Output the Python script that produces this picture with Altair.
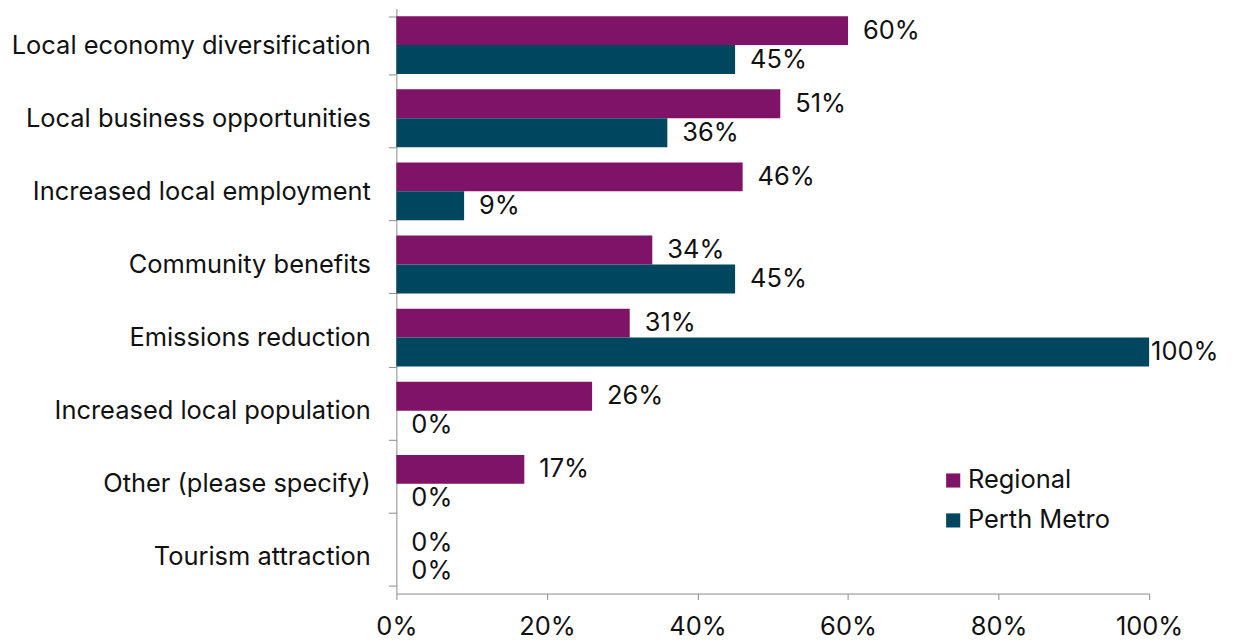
import altair as alt
import pandas as pd

categories = [
    "Local economy diversification",
    "Local business opportunities",
    "Increased local employment",
    "Community benefits",
    "Emissions reduction",
    "Increased local population",
    "Other (please specify)",
    "Tourism attraction",
]
regional = [60, 51, 46, 34, 31, 26, 17, 0]
perth_metro = [45, 36, 9, 45, 100, 0, 0, 0]
series = ["Regional", "Perth Metro"]
colors = ["#7F1367", "#00465E"]
x_ticks = [0, 20, 40, 60, 80, 100]

rows = []
for c, r, p in zip(categories, regional, perth_metro):
    rows.append({"category": c, "series": series[0], "value": r})
    rows.append({"category": c, "series": series[1], "value": p})
df = pd.DataFrame(rows)

FONT = "Inter"
FS = 25.5

y_enc = alt.Y(
    "category:N",
    sort=categories,
    scale=alt.Scale(paddingInner=0.208, paddingOuter=0.104),
    axis=alt.Axis(
        title=None,
        tickBand="extent",
        tickSize=8,
        tickColor="#8c8c8c",
        domainColor="#8c8c8c",
        labelFontSize=FS,
        labelFontWeight=400,
        labelColor="#111111",
        labelFont=FONT,
        labelPadding=18,
        labelLimit=400,
    ),
)
yoff = alt.YOffset("series:N", sort=series, scale=alt.Scale(paddingInner=0, paddingOuter=0))

x_enc = alt.X(
    "value:Q",
    scale=alt.Scale(domain=[0, 100], nice=False),
    axis=alt.Axis(
        title=None,
        values=x_ticks,
        grid=False,
        tickSize=6,
        tickColor="#8c8c8c",
        domainColor="#8c8c8c",
        labelFontSize=FS,
        labelFontWeight=400,
        labelColor="#111111",
        labelFont=FONT,
        labelPadding=15,
        labelFlush=False,
        labelExpr="datum.value + '%'",
    ),
)

bars = alt.Chart(df).mark_bar(size=29).encode(
    x=x_enc,
    y=y_enc,
    yOffset=yoff,
    color=alt.Color(
        "series:N",
        sort=series,
        scale=alt.Scale(domain=series, range=colors),
        legend=alt.Legend(
            title=None,
            orient="none",
            legendX=545,
            legendY=460,
            symbolType="square",
            symbolSize=200,
            symbolStrokeWidth=0,
            labelFontSize=FS,
            labelFont=FONT,
            labelColor="#111111",
            rowPadding=13,
            labelOffset=2,
        ),
    ),
)

labels = alt.Chart(df).mark_text(
    align="left",
    baseline="middle",
    dx=alt.expr("datum.value >= 100 ? 2 : 15"),
    fontSize=FS,
    font=FONT,
    color="#111111",
).encode(
    x="value:Q",
    y=alt.Y("category:N", sort=categories),
    yOffset=alt.YOffset("series:N", sort=series),
    text=alt.Text("label:N"),
).transform_calculate(label="datum.value + '%'")

chart = (
    alt.layer(bars, labels)
    .properties(
        width=754,
        height=586,
        autosize=alt.AutoSizeParams(type="none"),
        padding={"left": 389, "top": 0, "right": 78, "bottom": 48},
    )
    .configure_view(stroke=None)
)

chart.save("out.html", embed_options={"renderer": "svg", "actions": False})
